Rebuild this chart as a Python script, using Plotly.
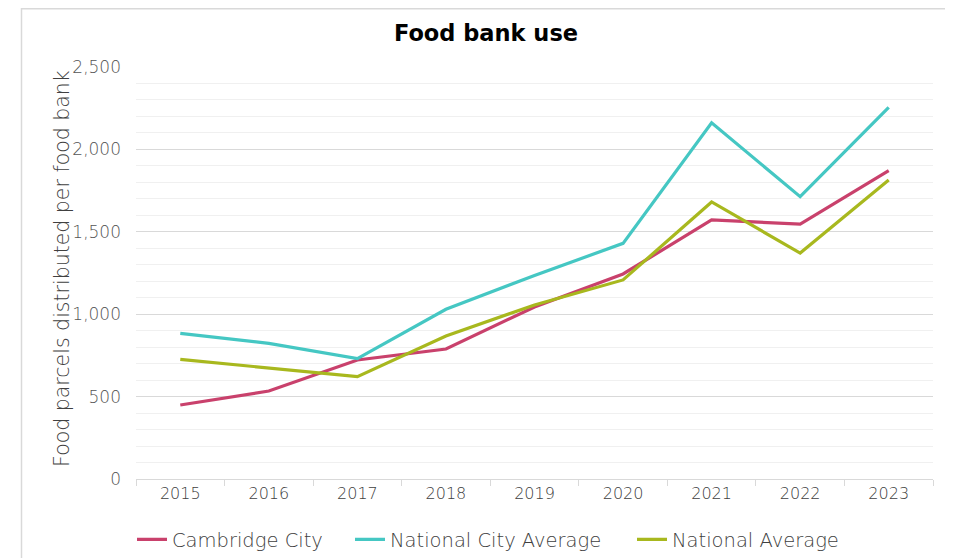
import plotly.graph_objects as go

years = ["2015", "2016", "2017", "2018", "2019", "2020", "2021", "2022", "2023"]
cambridge = [449, 534, 722, 789, 1044, 1244, 1572, 1547, 1871]
national_city = [884, 823, 730, 1030, 1235, 1430, 2162, 1713, 2255]
national = [726, 672, 621, 868, 1056, 1208, 1681, 1371, 1814]

series_names = ["Cambridge City", "National City Average", "National Average"]
series_values = [cambridge, national_city, national]
series_colors = ["#C9416C", "#45C7C3", "#A8B81E"]
y_title = "Food parcels distributed per food bank"

W, H = 945, 550
font_family = "'DejaVu Sans', sans-serif"
legend_ids = ["legend", "legend2", "legend3"]
legend_x = [124, 342, 624]

fig = go.Figure()
for name, vals, color, lid in zip(series_names, series_values, series_colors, legend_ids):
    fig.add_trace(go.Scatter(x=years, y=vals, name=name, mode="lines", legend=lid,
                             line=dict(color=color, width=3.2)))

legend_common = dict(orientation="h", xref="container", xanchor="left", y=-0.1, yanchor="top",
                     font=dict(size=19.5, color="#404040", weight=200), itemwidth=30,
                     bgcolor="rgba(0,0,0,0)")

fig.update_layout(
    width=W, height=H,
    paper_bgcolor="white", plot_bgcolor="white",
    margin=dict(l=128, r=20, t=59, b=79, autoexpand=False),
    title=dict(text="<b>Food bank use</b>", x=478 / W, xanchor="center", xref="container",
               y=1 - 25 / H, yanchor="middle", yref="container",
               font=dict(family=font_family, size=22.5, color="#000000")),
    font=dict(family=font_family, color="#595959", size=16, weight=200),
    showlegend=True,
    legend=dict(legend_common, x=legend_x[0] / W),
    legend2=dict(legend_common, x=legend_x[1] / W),
    legend3=dict(legend_common, x=legend_x[2] / W),
    xaxis=dict(type="category", range=[-0.5, 8.5], showgrid=False, showline=True, linecolor="#d9d9d9",
               ticks="outside", tickson="boundaries", ticklen=6, tickcolor="#d9d9d9",
               automargin=False,
               tickfont=dict(size=16, color="#404040", weight=200)),
    yaxis=dict(range=[0, 2500], dtick=500, tickformat=",", showgrid=True, gridcolor="#d9d9d9",
               zeroline=False, showline=False, ticks="", automargin=False,
               tickfont=dict(size=17, color="#555555", weight=200), ticklabelstandoff=14,
               minor=dict(dtick=100, showgrid=True, gridcolor="#f0f0f0")),
    annotations=[dict(text=y_title, xref="paper", yref="paper", x=(54 - 128) / 797, y=0.51,
                      xanchor="center", yanchor="middle", textangle=-90, showarrow=False,
                      font=dict(size=20.5, color="#404040", weight=200))],
    shapes=[dict(type="rect", xref="paper", yref="paper",
                 x0=(13.5 - 128) / 797, x1=(943 - 128) / 797,
                 y0=-(H - 59 - 412 + 20) / 412, y1=1 + (59 - 0.8) / 412,
                 line=dict(color="#d9d9d9", width=1.5), fillcolor="rgba(0,0,0,0)", layer="below")],
)

fig.write_html("out.html")
